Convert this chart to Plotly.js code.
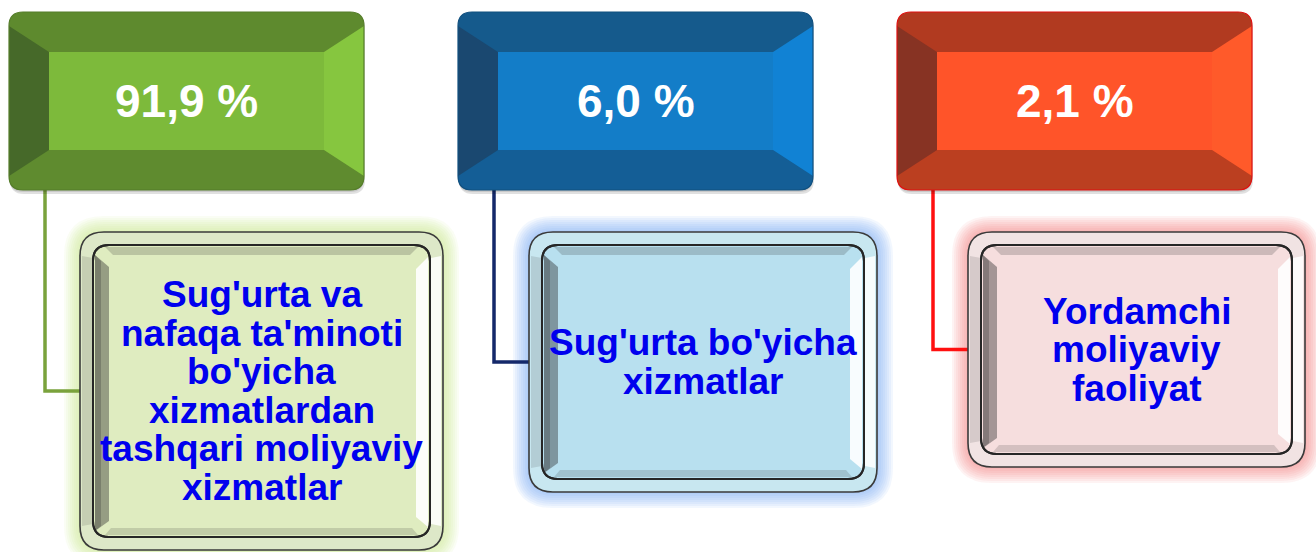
<!DOCTYPE html>
<html>
<head>
<meta charset="utf-8">
<script src="https://cdn.plot.ly/plotly-3.0.1.min.js"></script>
<style>html,body{margin:0;padding:0;background:#fff;}#chart{width:1316px;height:552px;}</style>
</head>
<body>
<div id="chart"></div>
<script>
// ---- data ----
const shares = [91.9, 6.0, 2.1];
const labelLines1 = ["Sug'urta va", "nafaqa ta'minoti", "bo'yicha", "xizmatlardan", "tashqari moliyaviy", "xizmatlar"];
const labelLines2 = ["Sug'urta bo'yicha", "xizmatlar"];
const labelLines3 = ["Yordamchi", "moliyaviy", "faoliyat"];
const labels = [labelLines1, labelLines2, labelLines3];

// ---- style / layout ----
const W = 1316, H = 552;
const colLeft = [9, 458, 897];
const topW = 355, topY0 = 12, topY1 = 190, bevel = 40, topR = 14;
const subOffX = 71, subY0 = 232;
const subW = [363, 348, 337];
const subH = [318, 260, 235];
const connOffX = 36;
const lineGap = 38.5;
const palettes = [
  {top:'#5e8a2e', left:'#466929', bottom:'#5f8b2f', right:'#86c63f', inner:'#7dba3b', edge:'#557d2a',
   conn:'#7aa23c', glow:[196,228,130], rim:'#dde8c8', fill:'#dfecc0'},
  {top:'#155a8c', left:'#1a4870', bottom:'#145e96', right:'#1182d4', inner:'#137dc8', edge:'#11507f',
   conn:'#14286a', glow:[110,165,240], rim:'#c8e7f0', fill:'#b8e0ef'},
  {top:'#b13a20', left:'#873323', bottom:'#bb3f20', right:'#ff5a2a', inner:'#ff5429', edge:'#e01010',
   conn:'#ff1010', glow:[240,120,120], rim:'#f1e3e3', fill:'#f6dede'}
];

function rr(x0, y0, x1, y1, r) {
  return `M${x0+r},${y0} L${x1-r},${y0} Q${x1},${y0} ${x1},${y0+r} L${x1},${y1-r} Q${x1},${y1} ${x1-r},${y1} ` +
         `L${x0+r},${y1} Q${x0},${y1} ${x0},${y1-r} L${x0},${y0+r} Q${x0},${y0} ${x0+r},${y0} Z`;
}
function shp(path, fill, line, lw) {
  return {type:'path', xref:'x', yref:'y', path:path, fillcolor:fill,
          line:{color:line || 'rgba(0,0,0,0)', width: lw || 0}, layer:'above'};
}

const shapes = [];
const annotations = [];

shares.forEach((v, i) => {
  const p = palettes[i];
  const x0 = colLeft[i], x1 = x0 + topW;
  const y0 = topY0, y1 = topY1;
  const xi0 = x0 + bevel, xi1 = x1 - bevel, yi0 = y0 + bevel, yi1 = y1 - bevel;
  const r = topR;

  const sx0 = x0 + subOffX, sx1 = sx0 + subW[i], sy0 = subY0, sy1 = subY0 + subH[i];
  const sMid = (sy0 + sy1) / 2;
  const cx = x0 + connOffX;

  // sub box glow (soft, layered)
  for (let g = 8; g >= 1; g--) {
    const e = g * 2;
    shapes.push(shp(rr(sx0-e, sy0-e, sx1+e, sy1+e, 24+e), `rgba(${p.glow[0]},${p.glow[1]},${p.glow[2]},0.09)`));
  }

  // connector
  shapes.push({type:'path', xref:'x', yref:'y', path:`M${cx},${y1} L${cx},${sMid} L${sx0},${sMid}`,
               line:{color:p.conn, width:3.5}, layer:'above'});

  // top box shadow
  shapes.push(shp(rr(x0+1, y0+3, x1+1, y1+4, r), 'rgba(0,0,0,0.12)'));
  shapes.push(shp(rr(x0, y0+1, x1, y1+2, r), 'rgba(0,0,0,0.10)'));
  // bevel faces
  shapes.push(shp(rr(x0, y0, x1, y1, r), p.top));
  shapes.push(shp(`M${x0},${y1-r} Q${x0},${y1} ${x0+r},${y1} L${x1-r},${y1} Q${x1},${y1} ${x1},${y1-r} L${xi1},${yi1} L${xi0},${yi1} Z`, p.bottom));
  shapes.push(shp(`M${x0},${y0+r} L${xi0},${yi0} L${xi0},${yi1} L${x0},${y1-r} Z`, p.left));
  shapes.push(shp(`M${x1},${y0+r} L${x1},${y1-r} L${xi1},${yi1} L${xi1},${yi0} Z`, p.right));
  shapes.push(shp(`M${xi0},${yi0} L${xi1},${yi0} L${xi1},${yi1} L${xi0},${yi1} Z`, p.inner));
  shapes.push(shp(rr(x0, y0, x1, y1, r), 'rgba(0,0,0,0)', p.edge, 1.2));

  annotations.push({xref:'x', yref:'y', x:(x0+x1)/2, y:(yi0+yi1)/2, showarrow:false,
    text:'<b>' + v.toFixed(1).replace('.', ',') + ' %</b>',
    font:{family:'Liberation Sans, Arial, sans-serif', size:46, color:'#ffffff'},
    xanchor:'center', yanchor:'middle'});

  // outer rim
  shapes.push(shp(rr(sx0, sy0, sx1, sy1, 24), p.rim, '#3a3a3a', 1.6));
  shapes.push(shp(`M${sx0+2},${sy0+24} L${sx0+13},${sy0+26} L${sx0+13},${sy1-26} L${sx0+2},${sy1-24} Z`, 'rgba(60,60,60,0.15)'));
  shapes.push(shp(`M${sx1-2},${sy0+24} L${sx1-12},${sy0+26} L${sx1-12},${sy1-26} L${sx1-2},${sy1-24} Z`, 'rgba(255,255,255,0.85)'));
  // inner panel
  const ix0 = sx0 + 13, ix1 = sx1 - 13, iy0 = sy0 + 13, iy1 = sy1 - 13;
  shapes.push(shp(rr(ix0, iy0, ix1, iy1, 16), p.fill, '#262626', 2));
  // inner bevel
  shapes.push(shp(`M${ix0+2},${iy0+10} L${ix0+16},${iy0+22} L${ix0+16},${iy1-16} L${ix0+2},${iy1-6} Z`, 'rgba(40,40,40,0.40)'));
  shapes.push(shp(`M${ix0+2},${iy0+10} L${ix0+8},${iy0+16} L${ix0+8},${iy1-11} L${ix0+2},${iy1-6} Z`, 'rgba(40,40,40,0.25)'));
  shapes.push(shp(`M${ix0+12},${iy0+2} L${ix1-12},${iy0+2} L${ix1-20},${iy0+10} L${ix0+20},${iy0+10} Z`, 'rgba(40,40,40,0.20)'));
  shapes.push(shp(`M${ix1-2},${iy0+12} L${ix1-2},${iy1-10} L${ix1-14},${iy1-20} L${ix1-14},${iy0+24} Z`, 'rgba(255,255,255,0.9)'));
  shapes.push(shp(`M${ix0+12},${iy1-2} L${ix1-12},${iy1-2} L${ix1-18},${iy1-9} L${ix0+18},${iy1-9} Z`, 'rgba(40,40,40,0.16)'));
  shapes.push(shp(rr(ix0, iy0, ix1, iy1, 16), 'rgba(0,0,0,0)', '#262626', 2));

  const lines = labels[i];
  const cy = (sy0 + sy1) / 2;
  lines.forEach((ln, k) => {
    annotations.push({xref:'x', yref:'y', x:(sx0+sx1)/2, y: cy + (k - (lines.length-1)/2) * lineGap,
      showarrow:false, text:'<b>' + ln + '</b>', xanchor:'center', yanchor:'middle',
      font:{family:'Liberation Sans, Arial, sans-serif', size:37, color:'#0000ee'}});
  });
});

const data = [{type:'scatter', x:[0, W], y:[0, H], mode:'markers', marker:{opacity:0}, hoverinfo:'skip', showlegend:false}];
const layout = {
  width:W, height:H, margin:{l:0, r:0, t:0, b:0},
  paper_bgcolor:'#ffffff', plot_bgcolor:'#ffffff',
  xaxis:{range:[0, W], visible:false, fixedrange:true},
  yaxis:{range:[H, 0], visible:false, fixedrange:true},
  shapes:shapes, annotations:annotations, showlegend:false
};
Plotly.newPlot('chart', data, layout, {displayModeBar:false, staticPlot:true});
</script>
</body>
</html>
